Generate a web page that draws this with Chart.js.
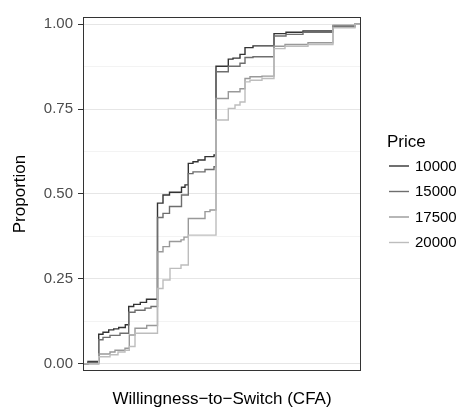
<!DOCTYPE html>
<html>
<head>
<meta charset="utf-8">
<script src="https://cdn.jsdelivr.net/npm/chart.js@4.4.1/dist/chart.umd.min.js"></script>
<style>
  html, body { margin: 0; padding: 0; background: #fff; }
</style>
</head>
<body>
<canvas id="ecdf" width="463" height="415"></canvas>
<script>
var prices = ['10000', '15000', '17500', '20000'];
var lineColors = ['#333333', '#6e6e6e', '#999999', '#bdbdbd'];

// willingness-to-switch threshold (CFA, axis units) and cumulative share at each step
var wts10000 = [0, 5, 15.7, 20, 25.7, 30.7, 35.7, 42.3, 45.7, 50.7, 57.3, 63.5, 74.5, 80, 86.5, 98.5, 102, 105.3, 110, 115, 122, 131, 133, 145.3, 150, 157, 162, 170, 191, 203, 220, 250, 272, 278];
var share10000 = [0, 0.007, 0.087, 0.093, 0.1, 0.103, 0.107, 0.115, 0.169, 0.175, 0.181, 0.19, 0.473, 0.497, 0.505, 0.52, 0.527, 0.59, 0.595, 0.6, 0.61, 0.615, 0.876, 0.897, 0.9, 0.911, 0.931, 0.936, 0.972, 0.976, 0.98, 0.995, 1, 1];

var wts15000 = [0, 5, 15.7, 20, 27, 37, 45.7, 52, 62, 68, 74.5, 80, 86.5, 98.5, 105.3, 110, 122, 131, 133, 145.3, 157, 162, 170, 191, 203, 220, 250, 272, 278];
var share15000 = [0, 0.004, 0.071, 0.078, 0.084, 0.09, 0.152, 0.158, 0.164, 0.169, 0.431, 0.443, 0.463, 0.497, 0.56, 0.565, 0.572, 0.58, 0.86, 0.876, 0.885, 0.902, 0.904, 0.965, 0.97, 0.976, 0.992, 1, 1];

var wts17500 = [0, 15.7, 27, 32, 42, 46.3, 52, 63.7, 74.5, 80, 86.5, 98, 101, 105.3, 122, 127, 133, 145.3, 157, 162, 167, 179, 191, 202, 225, 250, 272, 278];
var share17500 = [0, 0.029, 0.035, 0.04, 0.046, 0.085, 0.105, 0.113, 0.33, 0.345, 0.36, 0.365, 0.373, 0.428, 0.448, 0.453, 0.781, 0.801, 0.81, 0.84, 0.845, 0.847, 0.935, 0.94, 0.945, 0.997, 1, 1];

var wts20000 = [0, 15.7, 27, 35, 42, 46.3, 52, 74.5, 80, 87, 98, 105.3, 133, 145.3, 152, 157, 162, 167, 179, 191, 202, 225, 250, 272, 278];
var share20000 = [0, 0.021, 0.027, 0.035, 0.04, 0.051, 0.09, 0.222, 0.247, 0.281, 0.291, 0.379, 0.718, 0.752, 0.762, 0.771, 0.83, 0.835, 0.84, 0.928, 0.935, 0.94, 0.989, 1, 1];

var yTicks = [0, 0.25, 0.5, 0.75, 1];
var yMinor = [0.125, 0.375, 0.625, 0.875];

var FONT = '"Liberation Sans", Arial, Helvetica, sans-serif';

function pairs(xs, ys) {
  return xs.map(function (x, i) { return { x: x, y: ys[i] }; });
}

var series = [
  pairs(wts10000, share10000),
  pairs(wts15000, share15000),
  pairs(wts17500, share17500),
  pairs(wts20000, share20000)
];

var datasets = prices.map(function (p, i) {
  return {
    label: p,
    data: series[i],
    borderColor: lineColors[i],
    borderWidth: 1.4,
    stepped: 'before',
    pointRadius: 0,
    fill: false,
    order: prices.length - i
  };
});

function isMajor(v) {
  return yTicks.some(function (t) { return Math.abs(t - v) < 1e-9; });
}

// full frame around the panel
var panelBox = {
  id: 'panelBox',
  afterDatasetsDraw: function (chart) {
    var a = chart.chartArea, c = chart.ctx;
    c.save();
    c.strokeStyle = '#333333';
    c.lineWidth = 1;
    c.strokeRect(a.left + 0.5, a.top + 0.5, a.right - a.left - 1, a.bottom - a.top - 1);
    c.restore();
  }
};

// key for the price levels, to the right of the panel
var priceKey = {
  id: 'priceKey',
  afterDraw: function (chart) {
    var c = chart.ctx;
    c.save();
    c.textBaseline = 'middle';
    c.fillStyle = '#000';
    c.font = '17px ' + FONT;
    c.fillText('Price', 387, 142);
    chart.data.datasets.forEach(function (ds, i) {
      var y = 166 + i * 25.5;
      c.strokeStyle = ds.borderColor;
      c.lineWidth = 1.4;
      c.beginPath();
      c.moveTo(389, y);
      c.lineTo(409, y);
      c.stroke();
      c.fillStyle = '#000';
      c.font = '15px ' + FONT;
      c.fillText(ds.label, 415, y + 0.5);
    });
    c.restore();
  }
};

new Chart(document.getElementById('ecdf').getContext('2d'), {
  type: 'line',
  data: { datasets: datasets },
  options: {
    responsive: false,
    animation: false,
    layout: { padding: { top: 17, right: 102, left: 0, bottom: 0 } },
    plugins: { legend: { display: false }, tooltip: { enabled: false } },
    scales: {
      x: {
        type: 'linear',
        min: 0,
        max: 278,
        ticks: { display: false },
        grid: { display: false },
        border: { display: false },
        afterFit: function (s) { s.height = 44; },
        title: {
          display: true,
          text: 'Willingness\u2212to\u2212Switch (CFA)',
          color: '#000',
          font: { family: FONT, size: 17 },
          padding: 5
        }
      },
      y: {
        type: 'linear',
        min: -0.021,
        max: 1.021,
        afterBuildTicks: function (s) {
          s.ticks = yTicks.concat(yMinor).sort().map(function (v) { return { value: v }; });
        },
        afterFit: function (s) { s.width = 83; },
        ticks: {
          autoSkip: false,
          padding: 5,
          color: '#4d4d4d',
          font: { family: FONT, size: 15 },
          callback: function (v) { return isMajor(v) ? v.toFixed(2) : ''; }
        },
        grid: {
          tickLength: 5,
          lineWidth: 1,
          color: function (ctx) { return isMajor(ctx.tick.value) ? '#e6e6e6' : '#f3f3f3'; },
          tickColor: function (ctx) { return isMajor(ctx.tick.value) ? '#333333' : 'rgba(0,0,0,0)'; }
        },
        border: { display: false },
        title: {
          display: true,
          text: 'Proportion',
          color: '#000',
          font: { family: FONT, size: 17 },
          padding: 10
        }
      }
    }
  },
  plugins: [panelBox, priceKey]
});
</script>
</body>
</html>
